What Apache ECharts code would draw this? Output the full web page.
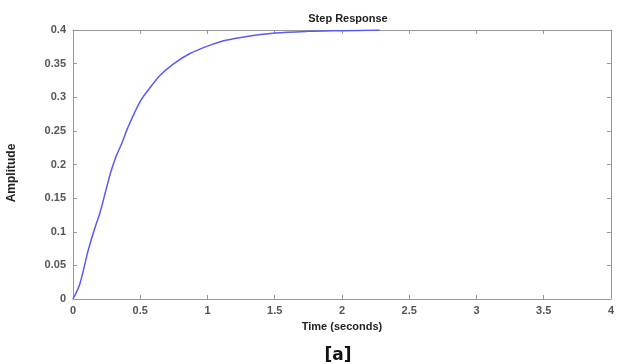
<!DOCTYPE html>
<html>
<head>
<meta charset="utf-8">
<script src="https://cdn.jsdelivr.net/npm/echarts@6/dist/echarts.min.js"></script>
<style>
  html, body { margin: 0; padding: 0; background: #fff; }
  #chart { width: 617px; height: 364px; }
</style>
</head>
<body>
<div id="chart"></div>
<script>
// time (s) and amplitude
var timeData = [0, 0.05, 0.11, 0.16, 0.2, 0.24, 0.28, 0.32, 0.36, 0.41, 0.5, 0.58, 0.65, 0.75, 0.87, 1.0, 1.12, 1.25, 1.5, 1.75, 2.0, 2.28];
var ampData = [0, 0.022, 0.07, 0.104, 0.128, 0.158, 0.188, 0.212, 0.23, 0.256, 0.294, 0.316, 0.333, 0.35, 0.365, 0.376, 0.384, 0.389, 0.3955, 0.398, 0.399, 0.4];
var xTicks = ['0', '0.5', '1', '1.5', '2', '2.5', '3', '3.5', '4'];

var chart = echarts.init(document.getElementById('chart'));

var axisGray = '#999';
var labelStyle = {
  color: '#555',
  fontFamily: 'Liberation Sans, Arial, sans-serif',
  fontWeight: 'bold',
  fontSize: 11
};

var option = {
  animation: false,
  backgroundColor: '#fff',
  title: {
    text: 'Step Response',
    left: 343,
    top: 8,
    textAlign: 'center',
    textStyle: {
      color: '#222',
      fontFamily: 'Liberation Sans, Arial, sans-serif',
      fontWeight: 'bold',
      fontSize: 11
    }
  },
  grid: { left: 73, right: 3, top: 30, bottom: 65 },
  xAxis: [
    {
      type: 'value', min: 0, max: 4, interval: 0.5,
      name: 'Time (seconds)', nameLocation: 'middle', nameGap: 22,
      nameTextStyle: { color: '#222', fontFamily: 'Liberation Sans, Arial, sans-serif', fontWeight: 'bold', fontSize: 11 },
      axisLine: { onZero: false, lineStyle: { color: axisGray, width: 1 } },
      axisTick: { inside: true, length: 4, lineStyle: { color: axisGray } },
      axisLabel: Object.assign({ margin: 6, formatter: function (v) { return xTicks[Math.round(v * 2)]; } }, labelStyle),
      splitLine: { show: false }
    },
    {
      type: 'value', min: 0, max: 4, interval: 0.5, position: 'top',
      axisLine: { show: true, onZero: false, lineStyle: { color: axisGray, width: 1 } },
      axisTick: { show: true, inside: true, length: 4, lineStyle: { color: axisGray } },
      axisLabel: { show: false },
      splitLine: { show: false }
    }
  ],
  yAxis: [
    {
      type: 'value', min: 0, max: 0.4, interval: 0.05,
      axisLine: { show: true, onZero: false, lineStyle: { color: axisGray, width: 1 } },
      axisTick: { show: true, inside: true, length: 4, lineStyle: { color: axisGray } },
      axisLabel: Object.assign({ margin: 7 }, labelStyle),
      splitLine: { show: false }
    },
    {
      type: 'value', min: 0, max: 0.4, interval: 0.05, position: 'right',
      axisLine: { show: true, onZero: false, lineStyle: { color: axisGray, width: 1 } },
      axisTick: { show: true, inside: true, length: 4, lineStyle: { color: axisGray } },
      axisLabel: { show: false },
      splitLine: { show: false }
    }
  ],
  series: [
    {
      type: 'line',
      data: timeData.map(function (t, i) { return [t, ampData[i]]; }),
      smooth: 0.3,
      showSymbol: false,
      lineStyle: { color: '#5a5af5', width: 1.5 }
    }
  ],
  graphic: [
    {
      type: 'text',
      x: 12,
      y: 173,
      rotation: Math.PI / 2,
      style: {
        text: 'Amplitude',
        fill: '#222',
        align: 'center',
        verticalAlign: 'middle',
        font: 'bold 12px Liberation Sans, Arial, sans-serif'
      }
    },
    {
      type: 'text',
      x: 338,
      y: 356,
      style: {
        text: '[a]',
        fill: '#111',
        align: 'center',
        verticalAlign: 'middle',
        font: 'bold 17px DejaVu Sans, Verdana, sans-serif'
      }
    }
  ]
};

chart.setOption(option);
</script>
</body>
</html>
